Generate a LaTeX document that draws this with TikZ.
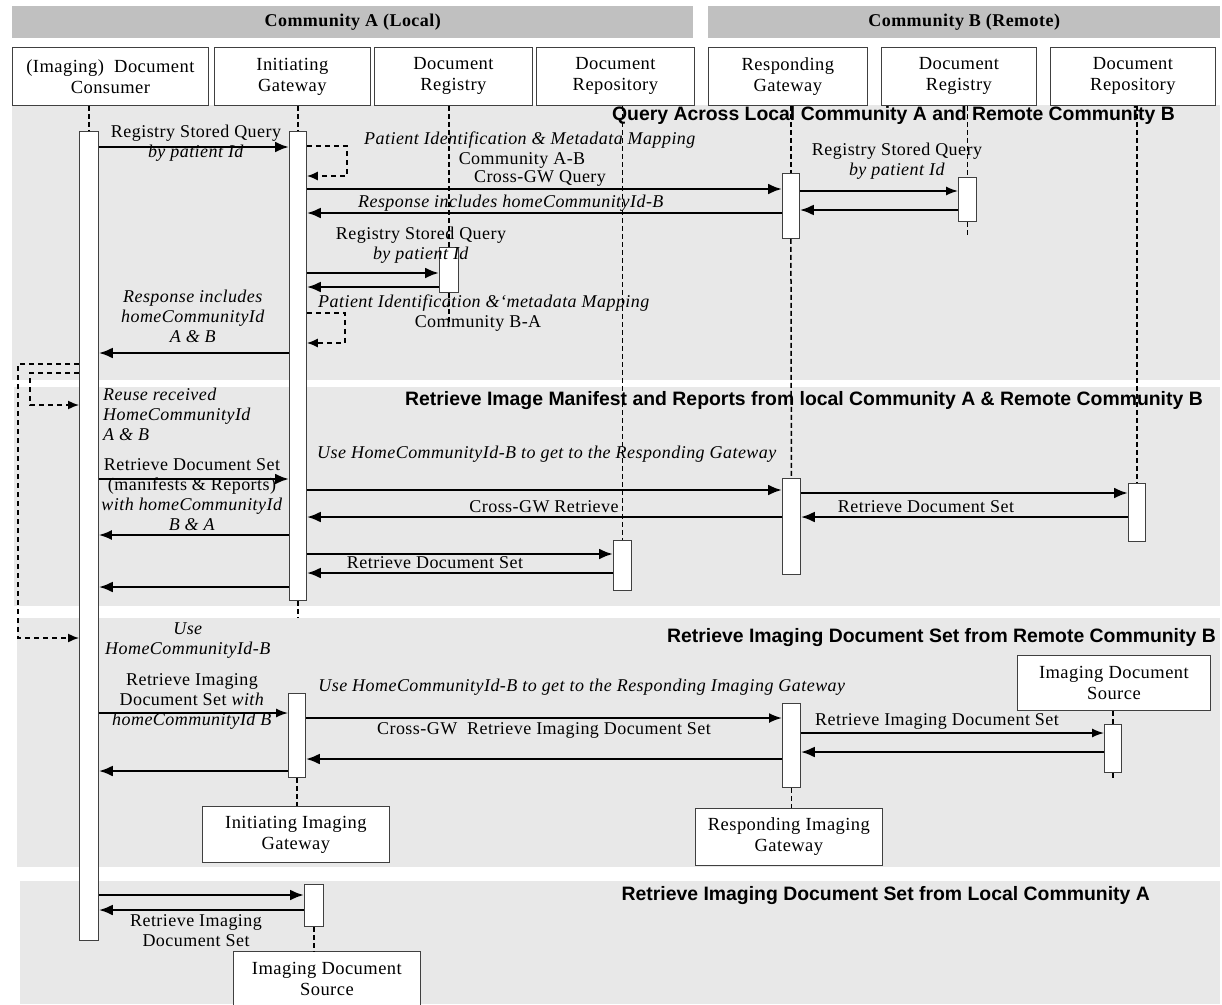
\documentclass[tikz,border=0pt]{standalone}
\usepackage{fontspec}
\setmainfont{Liberation Serif}[LetterSpace=2.5]
\newfontfamily\sansbold{Liberation Sans}
\usetikzlibrary{arrows.meta}
\definecolor{hdrgray}{HTML}{C0C0C0}
\definecolor{bandgray}{HTML}{E8E8E8}
\definecolor{edge}{HTML}{404040}
\begin{document}
\begin{tikzpicture}[x=1pt,y=-1pt,
  hdr/.style={fill=hdrgray, draw=none, inner sep=0, font=\bfseries\fontsize{18}{21}\selectfont},
  actor/.style={draw=edge, fill=white, line width=0.8pt, inner sep=0, align=center, font=\fontsize{18.5}{21}\selectfont},
  bar/.style={draw=edge, fill=white, line width=0.8pt, inner sep=0},
  life/.style={line width=1.5pt, dash pattern=on 5pt off 3pt},
  msg/.style={line width=2.6pt, -{Latex[length=14pt,width=11pt]}},
  msgmid/.style={line width=2pt, -{Latex[length=13pt,width=10pt]}},
  msgthin/.style={line width=1.5pt, -{Latex[length=12pt,width=9pt]}},
  selfloop/.style={line width=1.8pt, dash pattern=on 5pt off 4pt, -{Latex[length=11pt,width=9pt]}},
  lbl/.style={align=center, inner sep=0, font=\fontsize{18}{20}\selectfont},
  ttl/.style={anchor=east, inner sep=0, font=\sansbold\bfseries\fontsize{19.4}{22}\selectfont},
]
\useasboundingbox (0,0) rectangle (1222,1004);
\fill[white] (0,0) rectangle (1222,1004);

% header bands
\node[hdr, minimum width=681, minimum height=32, anchor=north west] (hA) at (12,6) {Community A (Local)};
\node[hdr, minimum width=512, minimum height=32, anchor=north west] (hB) at (708,6) {Community B (Remote)};

% section bands
\fill[bandgray] (12,105) rectangle (1220,380);
\fill[bandgray] (14,387) rectangle (1220,606);
\fill[bandgray] (17,618) rectangle (1220,867);
\fill[bandgray] (20,881) rectangle (1220,1004);

% section titles
\node[ttl] (t1) at (1175,115) {Query Across Local Community A and Remote Community B};
\node[ttl] (t2) at (1203,401) {Retrieve Image Manifest and Reports from local Community A \& Remote Community B};
\node[ttl] (t3) at (1216,638) {Retrieve Imaging Document Set from Remote Community B};
\node[ttl] (t4) at (1150,896) {Retrieve Imaging Document Set from Local Community A};

% actor boxes
\node[actor, minimum width=196, minimum height=58, anchor=north west] (cons) at (12,47) {(Imaging)\ \ Document\\Consumer};
\node[actor, minimum width=156, minimum height=58, anchor=north west] (igwA) at (214,47) {Initiating\\Gateway};
\node[actor, minimum width=158, minimum height=58, anchor=north west] (regAbox) at (374,47) {Document\\Registry};
\node[actor, minimum width=158, minimum height=58, anchor=north west] (repAbox) at (536,47) {Document\\Repository};
\node[actor, minimum width=159, minimum height=58, anchor=north west] (rgwbox) at (708,47) {Responding\\Gateway};
\node[actor, minimum width=155, minimum height=58, anchor=north west] (regBbox) at (881,47) {Document\\Registry};
\node[actor, minimum width=165, minimum height=58, anchor=north west] (repBbox) at (1050,47) {Document\\Repository};
\node[actor, minimum width=187, minimum height=56, anchor=north west] (iigbox) at (202,806) {Initiating Imaging\\Gateway};
\node[actor, minimum width=187, minimum height=57, anchor=north west] (rigbox) at (695,808) {Responding Imaging\\Gateway};
\node[actor, minimum width=193, minimum height=55, anchor=north west] (idsBbox) at (1017,655) {Imaging Document\\Source};
\node[actor, minimum width=187, minimum height=55, anchor=north west] (idsAbox) at (233,951) {Imaging Document\\Source};

% activation bars
\node[bar, minimum width=19, minimum height=809, anchor=north west] (cbar) at (79,131) {};
\node[bar, minimum width=17, minimum height=469, anchor=north west] (gb1) at (289,131) {};
\node[bar, minimum width=17, minimum height=65, anchor=north west] (rb1) at (782,173) {};
\node[bar, minimum width=18, minimum height=44, anchor=north west] (rgB) at (958,177) {};
\node[bar, minimum width=19, minimum height=45, anchor=north west] (rgA) at (439,247) {};
\node[bar, minimum width=18, minimum height=96, anchor=north west] (rb2) at (782,478) {};
\node[bar, minimum width=17, minimum height=58, anchor=north west] (rpB) at (1128,483) {};
\node[bar, minimum width=18, minimum height=50, anchor=north west] (rpA) at (613,540) {};
\node[bar, minimum width=17, minimum height=84, anchor=north west] (igb) at (288,693) {};
\node[bar, minimum width=18, minimum height=84, anchor=north west] (rigb) at (782,703) {};
\node[bar, minimum width=17, minimum height=48, anchor=north west] (idsBb) at (1104,724) {};
\node[bar, minimum width=19, minimum height=42, anchor=north west] (idsAb) at (304,884) {};

% lifelines
\draw[life] (cbar.north |- cons.south) -- (cbar.north);
\draw[life] (gb1.north |- igwA.south) -- (gb1.north);
\draw[life] (gb1.south) -- (gb1.south |- 0,617);
\draw[life] (rgA.north |- regAbox.south) -- (rgA.north);
\draw[life] (rgA.south) -- (rgA.south |- 0,322);
\draw[life] (rpA.north |- repAbox.south) -- (rpA.north);
\draw[life] (rb1.north |- rgwbox.south) -- (rb1.north);
\draw[life] (rb1.south) -- (rb2.north);
\draw[life] (rgB.north |- regBbox.south) -- (rgB.north);
\draw[life] (rgB.south) -- (rgB.south |- 0,235);
\draw[life] (rpB.north |- repBbox.south) -- (rpB.north);
\draw[life] (igb.south) -- (igb.south |- iigbox.north);
\draw[life] (rigb.south) -- (rigb.south |- rigbox.north);
\draw[life] (idsBb.north |- idsBbox.south) -- (idsBb.north);
\draw[life] (idsBb.south) -- (idsBb.south |- 0,779);
\draw[life] (idsAb.south) -- (idsAb.south |- idsAbox.north);

% ---- section 1 messages
\draw[msg] (cbar.east |- 0,147) -- (gb1.west |- 0,147);
\draw[selfloop] (gb1.east |- 0,146) -- (347,146) -- (347,176) -- (gb1.east |- 0,176);
\draw[msg] (gb1.east |- 0,189) -- (rb1.west |- 0,189);
\draw[msgthin] (rb1.east |- 0,191) -- (rgB.west |- 0,191);
\draw[msg] (rgB.west |- 0,210) -- (rb1.east |- 0,210);
\draw[msg] (rb1.west |- 0,213) -- (gb1.east |- 0,213);
\draw[msg] (gb1.east |- 0,273) -- (rgA.west |- 0,273);
\draw[msg] (rgA.west |- 0,287) -- (gb1.east |- 0,287);
\draw[selfloop] (gb1.east |- 0,313) -- (345,313) -- (345,343) -- (gb1.east |- 0,343);
\draw[msg] (gb1.west |- 0,353) -- (cbar.east |- 0,353);

% consumer reuse loops
\draw[selfloop, line width=1.5pt] (cbar.west |- 0,364) -- (18,364) -- (18,638) -- (cbar.west |- 0,638);
\draw[selfloop, line width=1.5pt] (cbar.west |- 0,373) -- (30,373) -- (30,405) -- (cbar.west |- 0,405);

% section 1 labels
\node[lbl] (l1) at (196,143) {Registry Stored Query\\\textit{by patient Id}};
\node[lbl] (l2) at (530,140) {\textit{Patient Identification \& Metadata Mapping}};
\node[lbl] (l3) at (522,160) {Community A-B};
\node[lbl] (l3b) at (540,178) {Cross-GW Query};
\node[lbl] (l4) at (897,161) {Registry Stored Query\\\textit{by patient Id}};
\node[lbl] (l5) at (511,203) {\textit{Response includes homeCommunityId-B}};
\node[lbl] (l6) at (421,245) {Registry Stored Query\\\textit{by patient Id}};
\node[lbl] (l7) at (484,303) {\textit{Patient Identification \&`metadata Mapping}};
\node[lbl] (l8) at (478,323) {Community B-A};
\node[lbl] (l9) at (193,316) {\textit{Response includes}\\\textit{homeCommunityId}\\\textit{A \& B}};

% ---- section 2
\node[lbl, align=left, anchor=west] (l10) at (103,414) {\textit{Reuse received}\\\textit{HomeCommunityId}\\\textit{A \& B}};
\draw[msg] (cbar.east |- 0,479) -- (gb1.west |- 0,479);
\draw[msg] (gb1.east |- 0,490) -- (rb2.west |- 0,490);
\draw[msg] (rb2.east |- 0,493) -- (rpB.west |- 0,493);
\draw[msg] (rpB.west |- 0,517) -- (rb2.east |- 0,517);
\draw[msg] (rb2.west |- 0,517) -- (gb1.east |- 0,517);
\draw[msgmid] (gb1.west |- 0,535) -- (cbar.east |- 0,535);
\draw[msg] (gb1.east |- 0,554) -- (rpA.west |- 0,554);
\draw[msg] (rpA.west |- 0,573) -- (gb1.east |- 0,573);
\draw[msg] (gb1.west |- 0,587) -- (cbar.east |- 0,587);
\node[lbl] (l11) at (192,495) {Retrieve Document Set\\(manifests \& Reports)\\\textit{with homeCommunityId}\\\textit{B \& A}};
\node[lbl] (l12) at (547,454) {\textit{Use HomeCommunityId-B to get to the Responding Gateway}};
\node[lbl] (l13) at (544,507) {Cross-GW Retrieve};
\node[lbl] (l14) at (926,507) {Retrieve Document Set};
\node[lbl] (l15) at (435,563) {Retrieve Document Set};

% ---- section 3
\node[lbl] (l16) at (188,641) {\textit{Use}\\\textit{HomeCommunityId-B}};
\draw[msgthin] (cbar.east |- 0,713) -- (igb.west |- 0,713);
\draw[msgmid] (igb.east |- 0,718) -- (rigb.west |- 0,718);
\draw[msgthin] (rigb.east |- 0,733) -- (idsBb.west |- 0,733);
\draw[msg] (idsBb.west |- 0,752) -- (rigb.east |- 0,752);
\draw[msg] (rigb.west |- 0,759) -- (igb.east |- 0,759);
\draw[msg] (igb.west |- 0,771) -- (cbar.east |- 0,771);
\node[lbl] (l17) at (192,701) {Retrieve Imaging\\Document Set \textit{with}\\\textit{homeCommunityId B}};
\node[lbl] (l18) at (582,687) {\textit{Use HomeCommunityId-B to get to the Responding Imaging Gateway}};
\node[lbl] (l19) at (544,730) {Cross-GW\ \ Retrieve Imaging Document Set};
\node[lbl] (l20) at (937,721) {Retrieve Imaging Document Set};

% ---- section 4
\draw[msg] (cbar.east |- 0,895) -- (idsAb.west |- 0,895);
\draw[msg] (idsAb.west |- 0,910) -- (cbar.east |- 0,910);
\node[lbl] (l21) at (196,931) {Retrieve Imaging\\Document Set};
\end{tikzpicture}
\end{document}
